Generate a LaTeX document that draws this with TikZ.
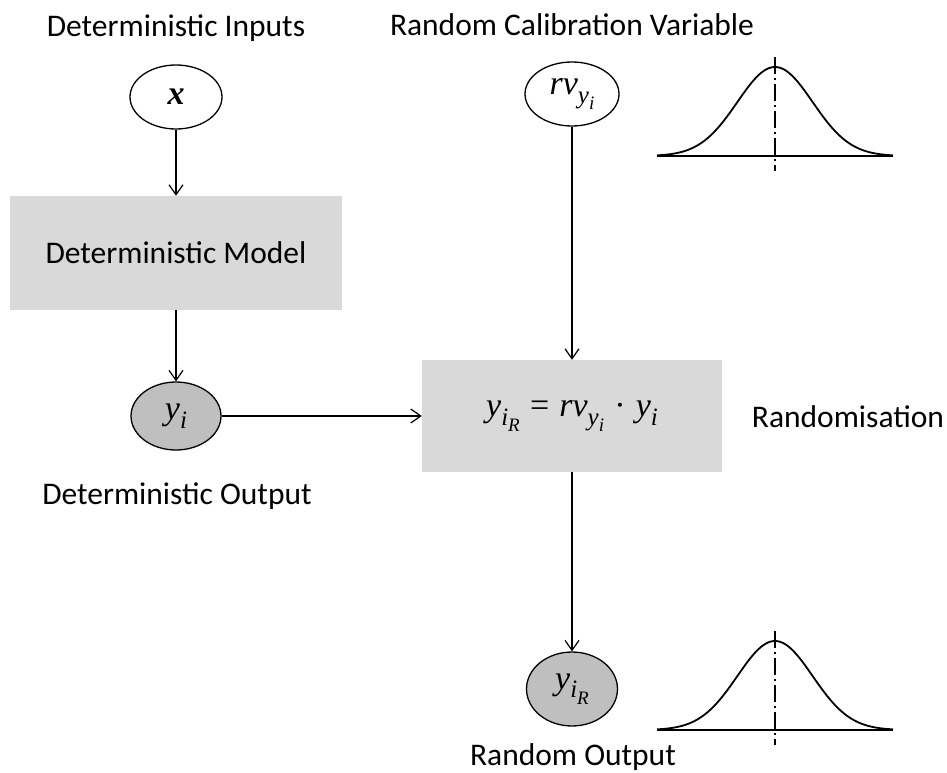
\documentclass[tikz,border=0pt]{standalone}
\usepackage{graphicx}
\usepackage{fontspec}
\setmainfont{Carlito}
\newfontfamily\varfont{Liberation Serif}
\usetikzlibrary{arrows.meta,shapes.geometric}

% variables set in a serif italic, with hand-placed subscripts
\newcommand{\vv}[1]{{\varfont\fontsize{34}{40}\selectfont\itshape #1}}
\newcommand{\sub}[1]{\raisebox{-0.26em}{\fontsize{25}{29}\selectfont #1}}
\newcommand{\subsub}[1]{\raisebox{-0.26em}{\fontsize{19}{22}\selectfont #1}}
\newcommand{\op}[1]{\hspace{0.3em}{\upshape #1}\hspace{0.3em}}

\definecolor{boxgray}{HTML}{D9D9D9}
\definecolor{ovalgray}{HTML}{BFBFBF}

\tikzset{
  oval/.style={ellipse, draw=black, line width=1.3pt, inner sep=0pt, fill=white},
  outoval/.style={oval, fill=ovalgray},
  procbox/.style={rectangle, fill=boxgray, draw=none, inner sep=0pt},
  caption/.style={anchor=base, inner sep=0pt},
  arr/.style={-{Straight Barb[length=10pt,width=14pt,line width=1.2pt]}, line width=1.2pt},
  bell/.style={line width=1.8pt},
  axisline/.style={line width=1.6pt, dash pattern=on 17pt off 4pt on 2pt off 4pt},
}

% bell-shaped density sketch centred at the current origin
\newcommand{\bellcurve}{%
  \draw[bell] (-118,0) -- (118,0);
  \draw[bell] plot[domain=-118:118, samples=120, smooth] (\x, {-89*exp(-(\x/53.18)^2)});
  \draw[axisline] (0,-99) -- (0,15);
}

\begin{document}
\begin{tikzpicture}[x=1pt, y=-1pt, font=\fontsize{31.5}{38}\selectfont]
  \useasboundingbox (0,0) rectangle (947,773);

  % left column: deterministic part
  \node[caption] (lblin) at (176,37) {Deterministic Inputs};
  \node[oval, minimum width=92pt, minimum height=64pt] (x) at (176,97) {\vv{\bfseries x}};
  \node[procbox, minimum width=332pt, minimum height=114pt] (dm) at (176,253) {Deterministic Model};
  \node[outoval, minimum width=90pt, minimum height=68pt] (yi) at (176,416) {\vv{y\sub{i}}};
  \node[caption] (lblout) at (177,504) {Deterministic Output};

  % right column: randomisation
  \node[caption] (lblrv) at (572,36) {Random Calibration Variable};
  \node[oval, minimum width=94pt, minimum height=64pt] (rv) at (572,94) {\vv{rv\sub{y\subsub{i}}}};
  \node[procbox, minimum width=300pt, minimum height=112pt] (rand) at (572,416)
    {\vv{y\sub{i\subsub{R}}\op{=}rv\sub{y\subsub{i}}\op{·}y\sub{i}}};
  \node[caption] (lblrand) at (848,427) {Randomisation};
  \node[outoval, minimum width=91pt, minimum height=74pt] (yir) at (572,689) {\vv{y\sub{i\subsub{R}}}};
  \node[caption] (lblrout) at (573,765) {Random Output};

  % connectors
  \draw[arr] (x) -- (dm);
  \draw[arr] (dm) -- (yi);
  \draw[arr] (yi) -- (rand);
  \draw[arr] (rv) -- (rand);
  \draw[arr] (rand) -- (yir);

  % distributions
  \begin{scope}[shift={(775,156)}]
    \bellcurve
  \end{scope}
  \begin{scope}[shift={(775,730)}]
    \bellcurve
  \end{scope}
\end{tikzpicture}
\end{document}
